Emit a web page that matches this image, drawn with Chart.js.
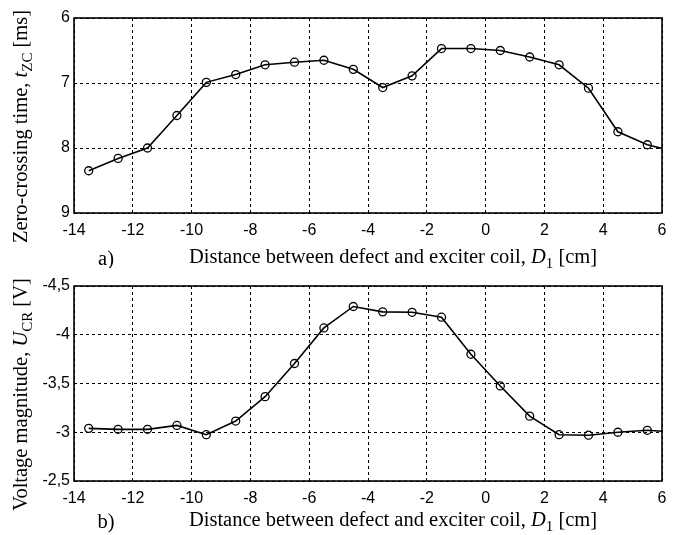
<!DOCTYPE html>
<html>
<head>
<meta charset="utf-8">
<script src="https://cdn.jsdelivr.net/npm/chart.js@4.4.1/dist/chart.umd.min.js"></script>
<style>
    body { margin: 0; background: #fff; }
    #top-box { position: absolute; left: 0; top: 0; }
    #bottom-box { position: absolute; left: 0; top: 268px; }
</style>
</head>
<body>
<div id="top-box"><canvas id="chart-a" width="683" height="268"></canvas></div>
<div id="bottom-box"><canvas id="chart-b" width="683" height="267"></canvas></div>
<script>
// distance between defect and exciter coil [cm]
const distance = [-13.5, -12.5, -11.5, -10.5, -9.5, -8.5, -7.5, -6.5, -5.5, -4.5,
    -3.5, -2.5, -1.5, -0.5, 0.5, 1.5, 2.5, 3.5, 4.5, 5.5, 6.5];
// a) zero-crossing time [ms]
const zeroCrossingTime = [8.35, 8.16, 8.0, 7.5, 6.99, 6.87, 6.72, 6.68, 6.65, 6.79,
    7.07, 6.89, 6.47, 6.47, 6.5, 6.6, 6.72, 7.08, 7.75, 7.95, 8.06];
// b) voltage magnitude [V]
const voltageMagnitude = [-3.04, -3.03, -3.03, -3.07, -2.975, -3.115, -3.365, -3.705, -4.07, -4.29,
    -4.235, -4.23, -4.18, -3.8, -3.475, -3.165, -2.975, -2.97, -3.0, -3.02, -3.0];

const xTicks = { min: -14, max: 6, step: 2 };
const timeTicks = { min: 6, max: 9, step: 1 };
const voltTicks = { min: -4.5, max: -2.5, step: 0.5 };

const xTitle = [
    { t: 'Distance between defect and exciter coil, ' },
    { t: 'D', italic: true },
    { t: '1', sub: true },
    { t: ' [cm]' }
];

function fontFor(s, size) {
    let px = s.sub ? Math.round(size * 0.72) : size;
    return (s.italic ? 'italic ' : '') + px + 'px "Liberation Serif", "Times New Roman", serif';
}

// draws a line of text with italic / subscript pieces, centred on 0,0
function drawRich(ctx, segs, size) {
    let total = 0;
    segs.forEach(s => {
        ctx.font = fontFor(s, size);
        total += ctx.measureText(s.t).width;
    });
    let x = -total / 2;
    segs.forEach(s => {
        ctx.font = fontFor(s, size);
        ctx.fillText(s.t, x, s.sub ? size * 0.3 : 0);
        x += ctx.measureText(s.t).width;
    });
}

function titlesPlugin(yTitle, letter, xTitleGap) {
    return {
        id: 'titles',
        afterDraw(chart) {
            const ctx = chart.ctx;
            const area = chart.chartArea;
            ctx.save();
            // frame round the plot
            ctx.strokeStyle = '#000';
            ctx.lineWidth = 1.6;
            ctx.strokeRect(area.left, area.top, area.right - area.left, area.bottom - area.top);

            ctx.fillStyle = '#000';
            ctx.textBaseline = 'middle';
            const size = 20.5;

            ctx.save();
            ctx.translate(22, (area.top + area.bottom) / 2 + 11);
            ctx.rotate(-Math.PI / 2);
            drawRich(ctx, yTitle, size);
            ctx.restore();

            ctx.save();
            ctx.translate((area.left + area.right) / 2 + 25, area.bottom + xTitleGap);
            drawRich(ctx, xTitle, size);
            ctx.restore();

            ctx.font = size + 'px "Liberation Serif", serif';
            ctx.textAlign = 'center';
            ctx.fillText(letter, 106, area.bottom + xTitleGap + 2);
            ctx.restore();
        }
    };
}

function makeChart(canvasId, values, yRange, yTitle, letter, xHeight, xTitleGap) {
    const ctx = document.getElementById(canvasId).getContext('2d');
    const radii = distance.map(d => (d > xTicks.max ? 0 : 4));
    return new Chart(ctx, {
        type: 'line',
        data: {
            datasets: [{
                data: distance.map((d, i) => ({ x: d, y: values[i] })),
                borderColor: '#000',
                borderWidth: 1.6,
                tension: 0,
                pointRadius: radii,
                pointHoverRadius: radii,
                pointBorderColor: '#000',
                pointBackgroundColor: 'rgba(0,0,0,0)',
                pointBorderWidth: 1.3
            }]
        },
        options: {
            responsive: false,
            animation: false,
            events: [],
            layout: { padding: { left: 0, right: 21, top: 18, bottom: 0 } },
            plugins: {
                legend: { display: false },
                tooltip: { enabled: false },
                title: { display: false }
            },
            scales: {
                x: {
                    type: 'linear',
                    min: xTicks.min,
                    max: xTicks.max,
                    afterFit: (scale) => { scale.height = xHeight; },
                    grid: { color: '#000', lineWidth: 1, drawTicks: false },
                    border: { display: false, dash: [3, 3] },
                    ticks: {
                        stepSize: xTicks.step,
                        padding: 8,
                        color: '#000',
                        font: { family: '"Liberation Sans", Arial, sans-serif', size: 16 }
                    }
                },
                y: {
                    type: 'linear',
                    reverse: true,
                    min: yRange.min,
                    max: yRange.max,
                    afterFit: (scale) => { scale.width = 74; },
                    grid: { color: '#000', lineWidth: 1, drawTicks: false },
                    border: { display: false, dash: [3, 3] },
                    ticks: {
                        stepSize: yRange.step,
                        padding: 4,
                        color: '#000',
                        font: { family: '"Liberation Sans", Arial, sans-serif', size: 16 },
                        callback: (v) => String(v).replace('.', ',')
                    }
                }
            }
        },
        plugins: [titlesPlugin(yTitle, letter, xTitleGap)]
    });
}

document.addEventListener('DOMContentLoaded', () => {
    makeChart('chart-a', zeroCrossingTime, timeTicks, [
        { t: 'Zero-crossing time, ' },
        { t: 't', italic: true },
        { t: 'ZC', sub: true },
        { t: ' [ms]' }
    ], 'a)', 55, 45);

    makeChart('chart-b', voltageMagnitude, voltTicks, [
        { t: 'Voltage magnitude, ' },
        { t: 'U', italic: true },
        { t: 'CR', sub: true },
        { t: ' [V]' }
    ], 'b)', 54, 40);
});
</script>
</body>
</html>
